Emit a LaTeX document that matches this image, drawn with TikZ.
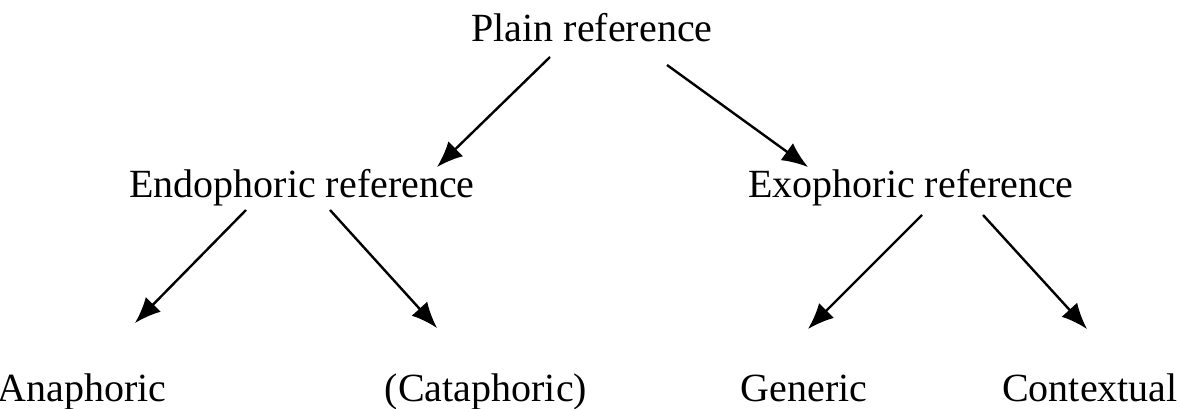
\documentclass[tikz,border=0pt]{standalone}
\usepackage{fontspec}
\setmainfont{Liberation Serif}
\usetikzlibrary{arrows.meta,calc}

\tikzset{
  term/.style={anchor=base, inner sep=0pt, font=\fontsize{20}{24}\selectfont},
  arr/.style={line width=1.2pt, -{Latex[length=13pt,width=10.5pt]}}
}

\begin{document}
\begin{tikzpicture}[x=0.5pt, y=-0.5pt]
\useasboundingbox (0,0) rectangle (1182,408);

\node[term] (plain) at (592,41) {Plain reference};

\node[term] (endo) at (302,197) {Endophoric reference};
\node[term] (exo) at (911,197) {Exophoric reference};

\node[term] (ana) at (82,401) {Anaphoric};
\node[term] (cata) at (486,401) {(Cataphoric)};
\node[term] (gen) at (804,401) {Generic};
\node[term] (con) at (1090,401) {Contextual};

\draw[arr] ($(plain.base)+(-42,16)$) -- ($(endo.base)+(135,-30)$);
\draw[arr] ($(plain.base)+(75,24)$) -- ($(exo.base)+(-103,-30)$);

\draw[arr] ($(endo.base)+(-56,13)$) -- ($(ana.base)+(53,-78)$);
\draw[arr] ($(endo.base)+(28,13)$) -- ($(cata.base)+(-49,-73)$);

\draw[arr] ($(exo.base)+(11,18)$) -- ($(gen.base)+(4,-72)$);
\draw[arr] ($(exo.base)+(72,18)$) -- ($(con.base)+(-3,-72)$);
\end{tikzpicture}
\end{document}
